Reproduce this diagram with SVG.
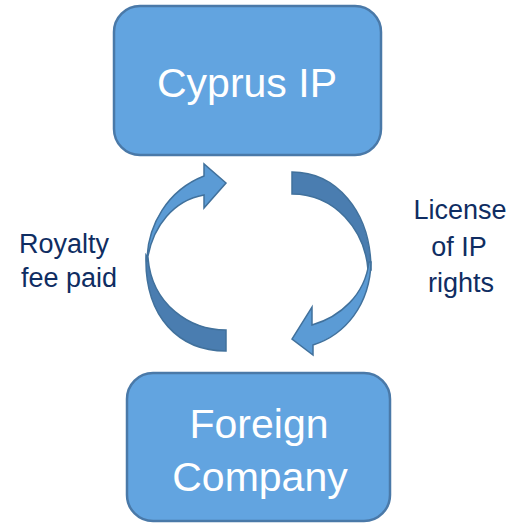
<svg xmlns="http://www.w3.org/2000/svg" width="522" height="524" viewBox="0 0 522 524">
  <style>
    .box { fill: #62A4E0; stroke: #4A79A8; stroke-width: 2.5; }
    .boxtext { font-family: "Liberation Sans", Arial, sans-serif; font-size: 41px; fill: #FFFFFF; text-anchor: middle; }
    .label { font-family: "Liberation Sans", Arial, sans-serif; font-size: 27px; fill: #0F2D62; text-anchor: middle; }
    .front { fill: #5B9BD5; stroke: #41719C; stroke-width: 1.5; stroke-linejoin: miter; }
    .back { fill: #4A7DB0; stroke: #41719C; stroke-width: 1.5; }
  </style>

  <g id="cyprus-ip">
    <rect class="box" x="114" y="6" width="267" height="149" rx="26" ry="26"/>
    <text class="boxtext" x="247" y="97">Cyprus IP</text>
  </g>

  <g id="foreign-company">
    <rect class="box" x="127" y="373" width="263" height="148" rx="26" ry="26"/>
    <text class="boxtext" x="259" y="438">Foreign</text>
    <text class="boxtext" x="260" y="491">Company</text>
  </g>

  <g id="connectors">
    <!-- left arrow: royalty flows up to Cyprus IP -->
    <path class="back" d="M 146,255 C 144,318 180,351 226,351 L 226,330 C 190,330 152,305 148,258 Z"/>
    <path class="front" d="M 147,262 C 147,225 168,190 204,176 L 204,164 L 226,183 L 204,208 L 204,195 C 175,200 152,225 147,262 Z"/>
    <!-- right arrow: license flows down to the foreign company -->
    <path class="back" d="M 292,172 C 335,172 371,210 371,270 L 368,270 C 365,230 335,194 292,194 Z"/>
    <path class="front" d="M 371,262 C 370,305 345,335 313,345 L 313,355 L 292,339 L 312,307 L 312,325 C 340,317 365,295 369,262 Z"/>
  </g>

  <g id="label-royalty">
    <text class="label" x="64" y="253">Royalty</text>
    <text class="label" x="69" y="287">fee paid</text>
  </g>

  <g id="label-license">
    <text class="label" x="460" y="219">License</text>
    <text class="label" x="459" y="256">of IP</text>
    <text class="label" x="461" y="292">rights</text>
  </g>
</svg>
